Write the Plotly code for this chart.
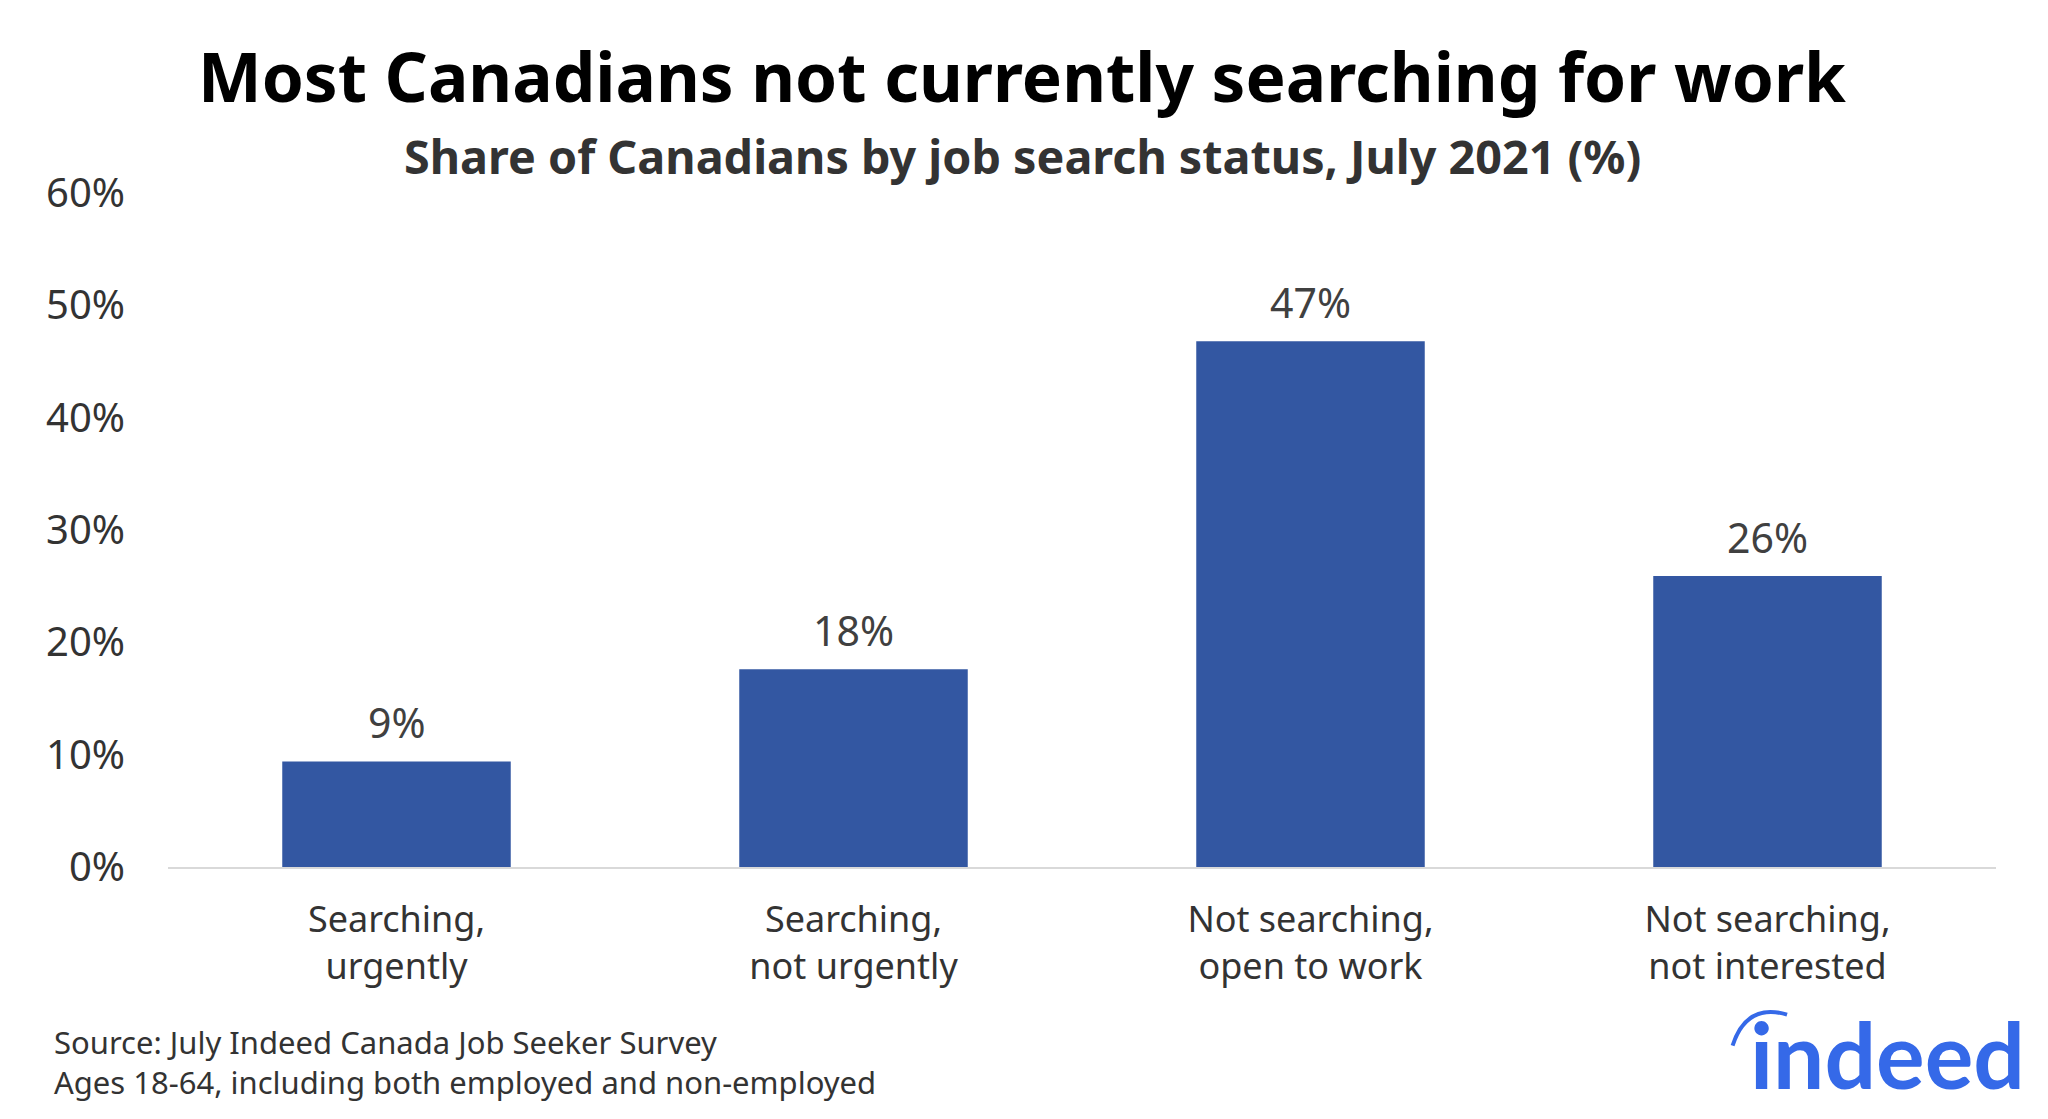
import plotly.graph_objects as go

categories = ["Searching,<br>urgently", "Searching,<br>not urgently",
              "Not searching,<br>open to work", "Not searching,<br>not interested"]
values = [9.4, 17.6, 46.8, 25.9]
y_ticks = [0, 10, 20, 30, 40, 50, 60]
y_tick_labels = [f"{v}%" for v in y_ticks]

title_text = "Most Canadians not currently searching for work"
subtitle_text = "Share of Canadians by job search status, July 2021 (%)"
source_lines = ["Source: July Indeed Canada Job Seeker Survey",
                "Ages 18-64, including both employed and non-employed"]

FONT = "Noto Sans"
BAR_COLOR = "#3357a2"
BLUE = "#3569e8"

fig = go.Figure(go.Bar(
    x=categories, y=values,
    marker=dict(color=BAR_COLOR, line=dict(width=0)),
    hovertemplate="%{y:.0f}%<extra></extra>",
))

# value labels above bars, placed through the data scales
for c, v in zip(categories, values):
    fig.add_annotation(x=c, y=v, xref="x", yref="y", text=f"{v:.0f}%",
                       showarrow=False, yanchor="middle", yshift=39,
                       font=dict(family=FONT, size=41, color="#404040"))

fig.update_layout(
    width=2048, height=1119,
    margin=dict(l=160, r=60, t=185, b=260),
    paper_bgcolor="white", plot_bgcolor="white",
    bargap=0.5, showlegend=False,
    font=dict(family=FONT, color="#333333"),
)
fig.update_yaxes(range=[0, 60], tickmode="array", tickvals=y_ticks, ticktext=y_tick_labels,
                 showgrid=False, zeroline=False, showline=False,
                 ticks="", ticklabelstandoff=42,
                 tickfont=dict(family=FONT, size=40, color="#333333"))
fig.update_xaxes(showgrid=False, showline=True, linecolor="#d9d9d9", linewidth=2,
                 ticks="", ticklabelstandoff=20,
                 tickfont=dict(family=FONT, size=36, color="#333333"))

anns = [
    dict(text="<b>" + title_text + "</b>", x=0.4674, y=1.173,
         font=dict(family=FONT, size=67.5, color="#000000")),
    dict(text="<b>" + subtitle_text + "</b>", x=0.4674, y=1.055,
         font=dict(family=FONT, size=46.7, color="#333333")),
    dict(text=source_lines[0], x=-0.0634, y=-0.2591, xanchor="left",
         font=dict(family=FONT, size=31, color="#333333")),
    dict(text=source_lines[1], x=-0.0634, y=-0.3185, xanchor="left",
         font=dict(family=FONT, size=31, color="#333333")),
    dict(text="<b>indeed</b>", x=1.017, y=-0.2769, xanchor="right",
         font=dict(family="Lato", size=91, color=BLUE)),
]
for a in anns:
    a.setdefault("xanchor", "center")
    fig.add_annotation(xref="paper", yref="paper", showarrow=False,
                       yanchor="middle", **a)

fig.add_shape(type="path", xref="paper", yref="paper",
              path="M 0.8559 -0.2650 Q 0.8635 -0.2012 0.8857 -0.2190",
              line=dict(color=BLUE, width=4))

fig.write_html("out.html")
